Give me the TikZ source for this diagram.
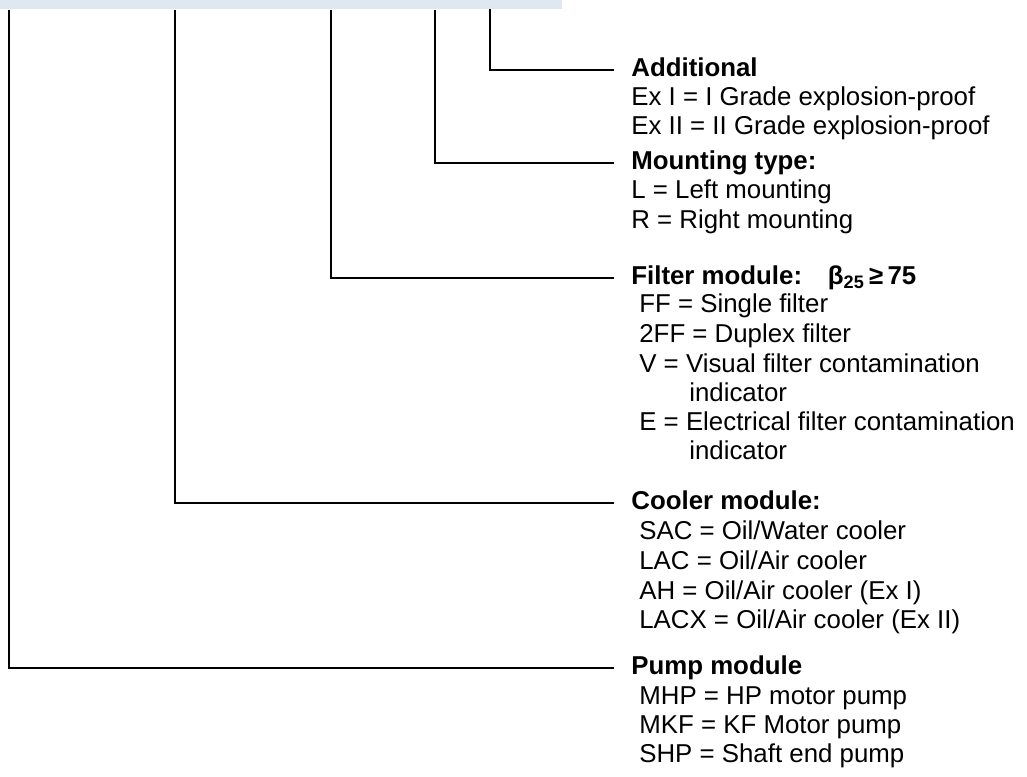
\documentclass[tikz,border=0pt]{standalone}
\usepackage{fontspec}
\setmainfont{Liberation Sans}
\usetikzlibrary{positioning}
\definecolor{barblue}{RGB}{223, 231, 240}

\begin{document}
\begin{tikzpicture}[
  font=\fontsize{14.7}{17}\selectfont,
  lead/.style={line width=1pt, black},
  hdr/.style={font=\fontsize{14.7}{17}\selectfont\bfseries, anchor=west, inner xsep=0.34cm, inner ysep=0pt, text height=0.72em, text depth=0pt},
  item/.style={anchor=west, inner sep=0pt, text height=0.72em, text depth=0pt}
]
  \useasboundingbox (0, 0) rectangle (20.54, -15.54);

  % Header bar
  \fill[barblue] (0, 0) rectangle (11.24, -0.18);

  % Code positions under the bar
  \coordinate (cpump) at (0.18, -0.2);
  \coordinate (ccool) at (3.50, -0.2);
  \coordinate (cfilt) at (6.62, -0.2);
  \coordinate (cmount) at (8.70, -0.2);
  \coordinate (cadd) at (9.80, -0.18);

  % Group headings
  \node[hdr] (add) at (12.28, -1.40) {Additional};
  \node[hdr] (mount) at (12.28, -3.26) {Mounting type:};
  \node[hdr] (filt) at (12.28, -5.56) {Filter module:\hspace{1em}β\textsubscript{25}\,≥\,75};
  \node[hdr] (cool) at (12.28, -10.06) {Cooler module:};
  \node[hdr] (pump) at (12.28, -13.36) {Pump module};

  % Leader lines
  \draw[lead] (cadd) |- (add.west);
  \draw[lead] (cmount) |- (mount.west);
  \draw[lead] (cfilt) |- (filt.west);
  \draw[lead] (ccool) |- (cool.west);
  \draw[lead] (cpump) |- (pump.west);

  % Options
  \foreach \y/\txt [count=\i] in {-1.98/{Ex I = I Grade explosion-proof}, -2.56/{Ex II = II Grade explosion-proof}} {
    \node[item] (add-\i) at (12.62, \y) {\txt};
  }
  \foreach \y/\txt [count=\i] in {-3.84/{L = Left mounting}, -4.44/{R = Right mounting}} {
    \node[item] (mount-\i) at (12.62, \y) {\txt};
  }
  \foreach \x/\y/\txt [count=\i] in {12.78/-6.12/{FF = Single filter}, 12.78/-6.72/{2FF = Duplex filter}, 12.78/-7.32/{V = Visual filter contamination}, 13.78/-7.90/{indicator}, 12.78/-8.48/{E = Electrical filter contamination}, 13.78/-9.06/{indicator}} {
    \node[item] (filt-\i) at (\x, \y) {\txt};
  }
  \foreach \y/\txt [count=\i] in {-10.66/{SAC = Oil/Water cooler}, -11.26/{LAC = Oil/Air cooler}, -11.86/{AH = Oil/Air cooler (Ex I)}, -12.44/{LACX = Oil/Air cooler (Ex II)}} {
    \node[item] (cool-\i) at (12.78, \y) {\txt};
  }
  \foreach \y/\txt [count=\i] in {-13.96/{MHP = HP motor pump}, -14.54/{MKF = KF Motor pump}, -15.12/{SHP = Shaft end pump}} {
    \node[item] (pump-\i) at (12.78, \y) {\txt};
  }
\end{tikzpicture}
\end{document}
